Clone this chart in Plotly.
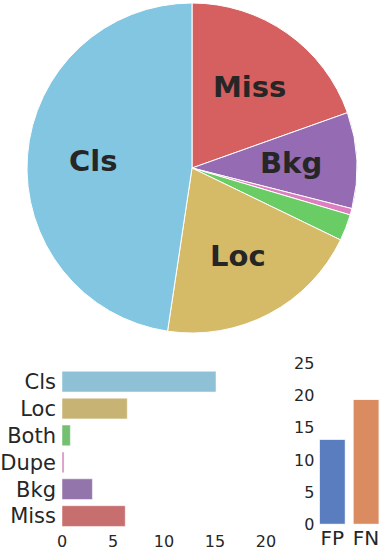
import math
import plotly.graph_objects as go

# data
error_types = ['Cls', 'Loc', 'Both', 'Dupe', 'Bkg', 'Miss']
error_values = [15.1, 6.4, 0.82, 0.2, 2.98, 6.2]
pie_order = ['Miss', 'Bkg', 'Dupe', 'Both', 'Loc', 'Cls']
pie_labels_shown = ['Miss', 'Bkg', 'Loc', 'Cls']
fpfn_labels = ['FP', 'FN']
fpfn_values = [13.2, 19.4]

pie_colors = {'Cls': '#82c6e2', 'Loc': '#d5bb67', 'Both': '#6acc64',
              'Dupe': '#dc7ec0', 'Bkg': '#956cb4', 'Miss': '#d65f5f'}
bar_colors = {'Cls': '#8ec1d6', 'Loc': '#c7b475', 'Both': '#75bf71',
              'Dupe': '#d08abb', 'Bkg': '#9475ab', 'Miss': '#c76e6e'}
fpfn_colors = ['#597dbf', '#da8b5f']

W, H = 383, 553
FONT = 'DejaVu Sans'
TXT = '#262626'

vals = dict(zip(error_types, error_values))
pie_vals = [vals[k] for k in pie_order]

# pie domain in pixels
px_l, px_r, px_t, px_b = 27, 357, 3, 333
dom_x = [px_l / W, px_r / W]
dom_y = [1 - px_b / H, 1 - px_t / H]

fig = go.Figure()
fig.add_trace(go.Pie(
    labels=pie_order, values=pie_vals, sort=False, direction='clockwise',
    rotation=0, textinfo='none', hoverinfo='label+value',
    marker=dict(colors=[pie_colors[k] for k in pie_order],
                line=dict(color='white', width=1)),
    domain=dict(x=dom_x, y=dom_y), showlegend=False,
))

# slice labels at 0.6 radius, like matplotlib's pie labels
total = sum(pie_vals)
cx = (px_l + px_r) / 2
cy = (px_t + px_b) / 2
rad = (px_r - px_l) / 2
acc = 0
for name, v in zip(pie_order, pie_vals):
    mid = (acc + v / 2) / total * 2 * math.pi
    acc += v
    if name not in pie_labels_shown:
        continue
    x = cx + 0.6 * rad * math.sin(mid)
    y = cy - 0.6 * rad * math.cos(mid)
    fig.add_annotation(x=x / W, y=1 - y / H, xref='paper', yref='paper',
                       xanchor='center', yanchor='middle',
                       text=f'<b>{name}</b>', showarrow=False,
                       font=dict(family=FONT, size=29, color=TXT))

# horizontal error bars
fig.add_trace(go.Bar(
    x=error_values, y=error_types, orientation='h', width=0.77,
    marker=dict(color=[bar_colors[k] for k in error_types],
                line=dict(color='white', width=0.5)),
    xaxis='x', yaxis='y', showlegend=False,
))

# FP / FN bars
fig.add_trace(go.Bar(
    x=fpfn_labels, y=fpfn_values, width=0.77,
    marker=dict(color=fpfn_colors, line=dict(color='white', width=1)),
    xaxis='x2', yaxis='y2', showlegend=False,
))

axis_common = dict(showgrid=False, zeroline=False, showline=False,
                   ticks='', automargin=False)

fig.update_layout(
    width=W, height=H, margin=dict(l=0, r=0, t=0, b=0),
    paper_bgcolor='white', plot_bgcolor='white',
    font=dict(family=FONT, color=TXT),
    xaxis=dict(domain=[62 / W, 266 / W], range=[0, 20], tickvals=[0, 5, 10, 15, 20],
               tickfont=dict(size=16), **axis_common),
    yaxis=dict(domain=[1 - 529.5 / H, 1 - 368.2 / H], autorange='reversed',
               tickfont=dict(size=21), ticklabelstandoff=5, **axis_common),
    xaxis2=dict(domain=[315.4 / W, 1], range=[-0.5, 1.5], anchor='y2',
                tickfont=dict(size=20), **axis_common),
    yaxis2=dict(domain=[1 - 524.3 / H, 1 - 363.3 / H], range=[0, 25], anchor='x2',
                tickvals=[0, 5, 10, 15, 20, 25],
                tickfont=dict(size=16), **axis_common),
)

# drop the browser's default page margin so the figure sits at 0,0
fig.write_html('out.html', config={'displayModeBar': False},
               post_script="document.body.style.margin='0';")
